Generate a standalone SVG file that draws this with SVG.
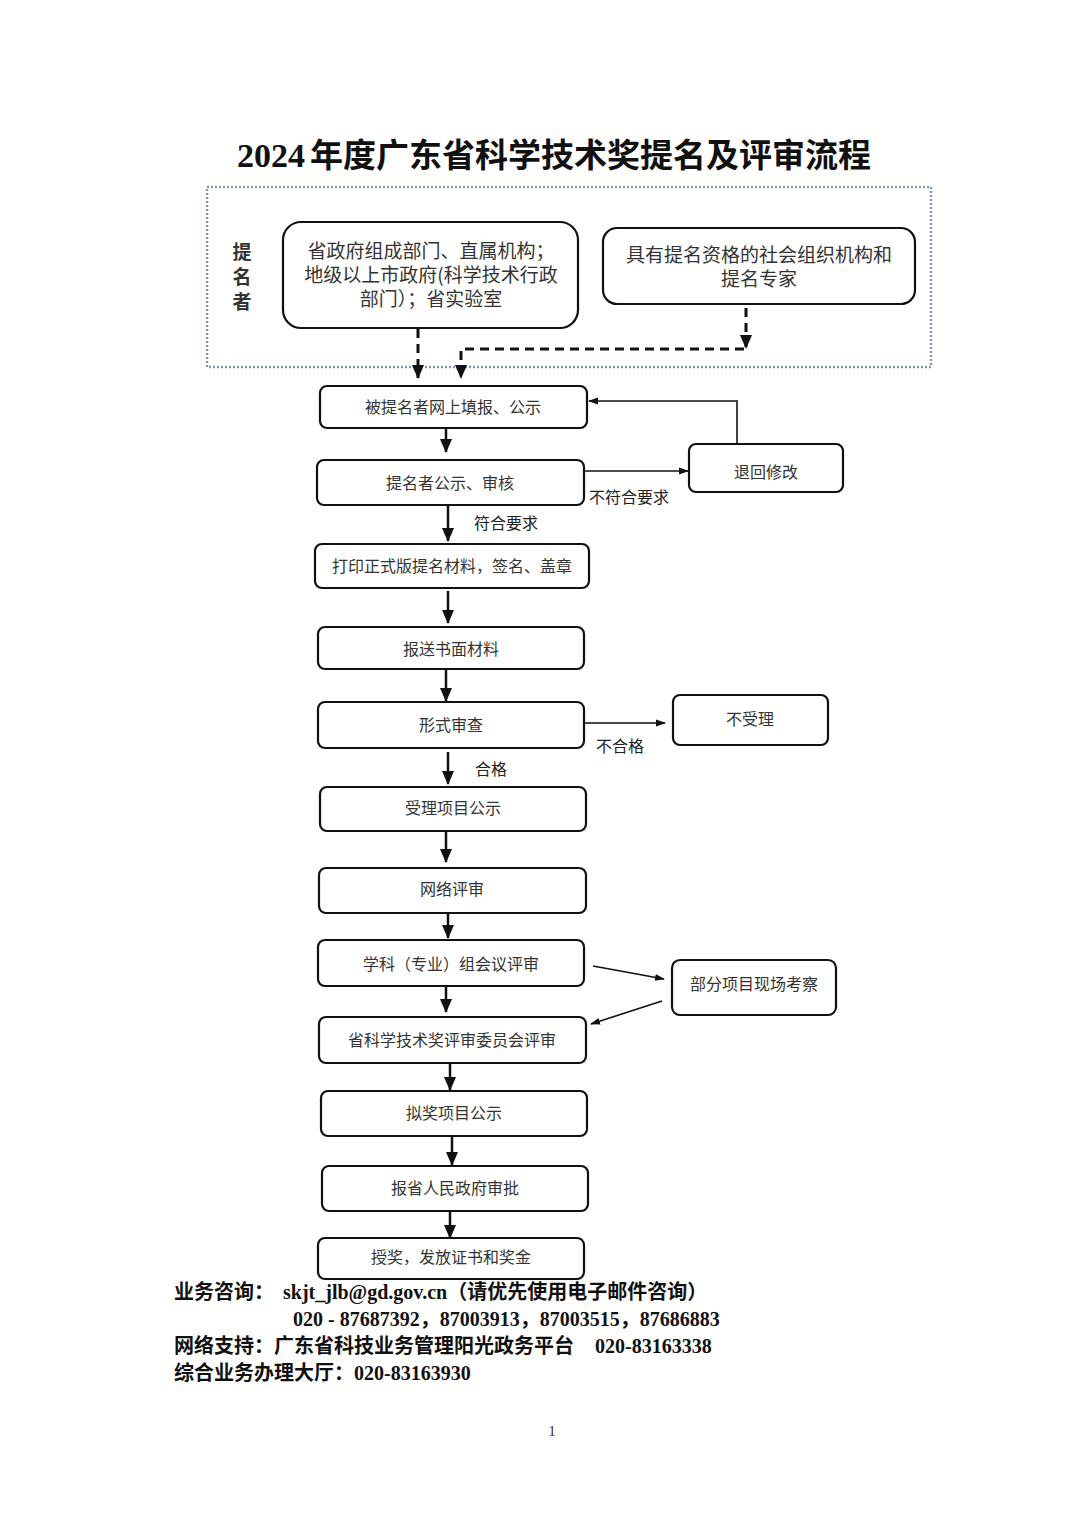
<svg xmlns="http://www.w3.org/2000/svg" width="1080" height="1527" viewBox="0 0 1080 1527">
<style>
.box{fill:#fff;stroke:#111;stroke-width:2.2}
.t{font-family:"Noto Sans CJK SC","Noto Sans",sans-serif;font-size:16px;fill:#333;text-anchor:middle}
.tl{font-family:"Noto Sans CJK SC","Noto Sans",sans-serif;font-size:19px;fill:#333;text-anchor:middle}
.lab{font-family:"Noto Sans CJK SC","Noto Sans",sans-serif;font-size:16px;fill:#222}
.main{stroke:#111;stroke-width:2.5;fill:none}
.thin{stroke:#111;stroke-width:1.6;fill:none}
.dash{stroke:#111;stroke-width:3;fill:none;stroke-dasharray:9 6}
.foot{font-family:"Liberation Serif","Noto Sans CJK SC",serif;font-size:20px;font-weight:bold;fill:#111}
</style>
<defs>
<marker id="ah" markerUnits="userSpaceOnUse" markerWidth="14" markerHeight="14" viewBox="0 0 14 14" refX="13" refY="7" orient="auto"><path d="M0,1 L14,7 L0,13 Z" fill="#111"/></marker>
<marker id="as" markerUnits="userSpaceOnUse" markerWidth="10" markerHeight="10" viewBox="0 0 10 10" refX="9" refY="5" orient="auto"><path d="M0,1.5 L10,5 L0,8.5 Z" fill="#111"/></marker>
</defs>
<rect width="1080" height="1527" fill="#fff"/>
<text x="237" y="167" font-family="Liberation Serif,serif" font-weight="bold" font-size="34" fill="#111">2024</text>
<text x="310" y="167" font-family="Noto Sans CJK SC,sans-serif" font-weight="bold" font-size="33" fill="#111">年度广东省科学技术奖提名及评审流程</text>
<rect x="207" y="187" width="724" height="180" fill="none" stroke="#7f9ab8" stroke-width="2.5" stroke-dasharray="2 2"/>
<g id="nominator-label">
<text x="242" y="259" class="tl" font-weight="bold" fill="#222">提</text>
<text x="242" y="284" class="tl" font-weight="bold" fill="#222">名</text>
<text x="242" y="309" class="tl" font-weight="bold" fill="#222">者</text>
</g>
<g id="n-gov"><rect class="box" x="283" y="222" width="295" height="106" rx="18"/>
<text class="tl" x="431" y="258">省政府组成部门、直属机构；</text>
<text class="tl" x="431" y="282">地级以上市政府(科学技术行政</text>
<text class="tl" x="431" y="306">部门）；省实验室</text></g>
<g id="n-org"><rect class="box" x="603" y="228" width="312" height="76" rx="14"/>
<text class="tl" x="759" y="262">具有提名资格的社会组织机构和</text>
<text class="tl" x="759" y="286">提名专家</text></g>
<g id="n1"><rect class="box" x="320" y="386" width="267" height="42" rx="7"/><text class="t" x="453" y="413">被提名者网上填报、公示</text></g>
<g id="n2"><rect class="box" x="317" y="460" width="267" height="45" rx="7"/><text class="t" x="450" y="489">提名者公示、审核</text></g>
<g id="n-return"><rect class="box" x="689" y="444" width="154" height="48" rx="7"/><text class="t" x="766" y="478">退回修改</text></g>
<g id="n3"><rect class="box" x="315" y="544" width="274" height="44" rx="7"/><text class="t" x="452" y="572">打印正式版提名材料，签名、盖章</text></g>
<g id="n4"><rect class="box" x="318" y="627" width="266" height="42" rx="7"/><text class="t" x="451" y="655">报送书面材料</text></g>
<g id="n5"><rect class="box" x="318" y="702" width="266" height="46" rx="7"/><text class="t" x="451" y="731">形式审查</text></g>
<g id="n-reject"><rect class="box" x="673" y="695" width="155" height="50" rx="7"/><text class="t" x="750" y="725">不受理</text></g>
<g id="n6"><rect class="box" x="320" y="787" width="266" height="44" rx="7"/><text class="t" x="453" y="814">受理项目公示</text></g>
<g id="n7"><rect class="box" x="319" y="868" width="267" height="45" rx="7"/><text class="t" x="452" y="895">网络评审</text></g>
<g id="n8"><rect class="box" x="318" y="940" width="266" height="46" rx="7"/><text class="t" x="451" y="970">学科（专业）组会议评审</text></g>
<g id="n-visit"><rect class="box" x="672" y="960" width="164" height="55" rx="8"/><text class="t" x="754" y="990">部分项目现场考察</text></g>
<g id="n9"><rect class="box" x="319" y="1017" width="267" height="46" rx="7"/><text class="t" x="452" y="1046">省科学技术奖评审委员会评审</text></g>
<g id="n10"><rect class="box" x="321" y="1091" width="266" height="45" rx="7"/><text class="t" x="454" y="1119">拟奖项目公示</text></g>
<g id="n11"><rect class="box" x="322" y="1166" width="266" height="45" rx="7"/><text class="t" x="455" y="1194">报省人民政府审批</text></g>
<g id="n12"><rect class="box" x="318" y="1238" width="266" height="41" rx="7"/><text class="t" x="451" y="1263">授奖，发放证书和奖金</text></g>
<g id="connectors">
<path class="dash" d="M418,329 V378" marker-end="url(#ah)"/>
<path class="dash" d="M746,308 V348" marker-end="url(#ah)"/>
<path class="dash" d="M744,349 H461 V378" marker-end="url(#ah)"/>
<path class="main" d="M446,428 V452" marker-end="url(#ah)"/>
<path class="thin" d="M584,471 H688" marker-end="url(#as)"/>
<path class="thin" d="M737,444 V401 H589" marker-end="url(#as)"/>
<path class="main" d="M448,506 V541" marker-end="url(#ah)"/>
<path class="main" d="M448,591 V623" marker-end="url(#ah)"/>
<path class="main" d="M446,670 V701" marker-end="url(#ah)"/>
<path class="thin" d="M584,723 H665" marker-end="url(#as)"/>
<path class="main" d="M448,752 V784" marker-end="url(#ah)"/>
<path class="main" d="M446,832 V862" marker-end="url(#ah)"/>
<path class="main" d="M448,914 V938" marker-end="url(#ah)"/>
<path class="main" d="M446,987 V1012" marker-end="url(#ah)"/>
<path class="thin" d="M593,966 L664,979" marker-end="url(#as)"/>
<path class="thin" d="M662,1001 L591,1024" marker-end="url(#as)"/>
<path class="main" d="M450,1064 V1090" marker-end="url(#ah)"/>
<path class="main" d="M452,1137 V1165" marker-end="url(#ah)"/>
<path class="main" d="M450,1212 V1238" marker-end="url(#ah)"/>
<text class="lab" x="589" y="503">不符合要求</text>
<text class="lab" x="474" y="529">符合要求</text>
<text class="lab" x="596" y="752">不合格</text>
<text class="lab" x="475" y="775">合格</text>
</g>
<text class="foot" x="174" y="1299">业务咨询：<tspan x="283">skjt_jlb@gd.gov.cn（请优先使用电子邮件咨询）</tspan></text>
<text class="foot" x="293" y="1326">020 - 87687392，87003913，87003515，87686883</text>
<text class="foot" x="174" y="1353">网络支持：广东省科技业务管理阳光政务平台<tspan x="595">020-83163338</tspan></text>
<text class="foot" x="174" y="1380">综合业务办理大厅：020-83163930</text>
<text x="552" y="1436" font-family="Liberation Serif,serif" font-size="15" fill="#333" text-anchor="middle">1</text>
</svg>
